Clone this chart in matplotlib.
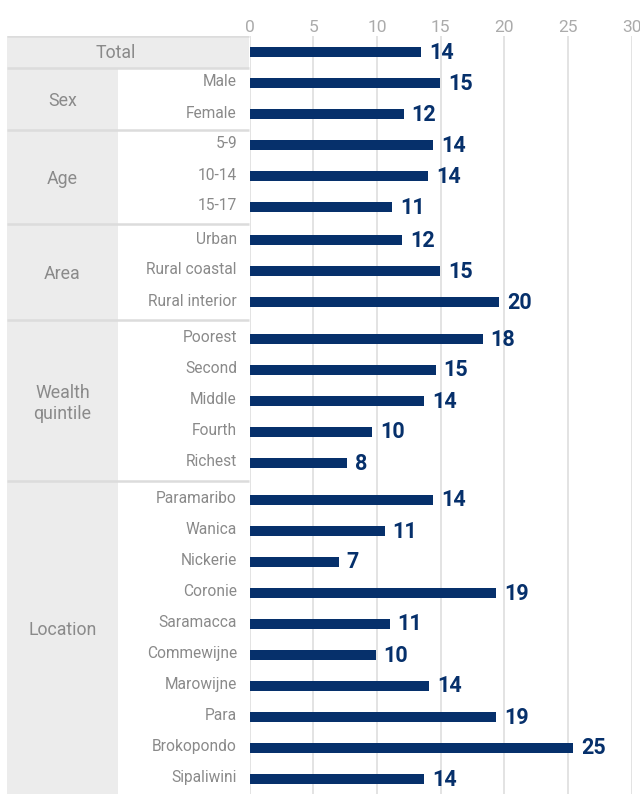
import matplotlib
matplotlib.use("Agg")
import matplotlib.pyplot as plt
from matplotlib.patches import Rectangle

# ---------------- data ----------------
groups = ["Total", "Sex", "Age", "Area", "Wealth\nquintile", "Location"]
total_value = [13.5]
sex_labels = ["Male", "Female"]
sex_values = [14.95, 12.1]
age_labels = ["5-9", "10-14", "15-17"]
age_values = [14.4, 14.0, 11.2]
area_labels = ["Urban", "Rural coastal", "Rural interior"]
area_values = [12.0, 14.95, 19.6]
wealth_labels = ["Poorest", "Second", "Middle", "Fourth", "Richest"]
wealth_values = [18.3, 14.6, 13.7, 9.6, 7.65]
location_labels = ["Paramaribo", "Wanica", "Nickerie", "Coronie", "Saramacca",
                   "Commewijne", "Marowijne", "Para", "Brokopondo", "Sipaliwini"]
location_values = [14.4, 10.6, 7.0, 19.35, 11.0, 9.9, 14.1, 19.35, 25.4, 13.7]
x_ticks = [0, 5, 10, 15, 20, 25, 30]

group_rows = [
    ([""], total_value),
    (sex_labels, sex_values),
    (age_labels, age_values),
    (area_labels, area_values),
    (wealth_labels, wealth_values),
    (location_labels, location_values),
]

# ---------------- layout (pixel units) ----------------
W, H = 640, 794
TOP = 36
ROW = 31
EXTRA_GAP = [0, 0, 0, 2, 5.5, 6]
X0 = 249.5   # x of value 0
X30 = 631.7  # x of value 30
TL = 7       # table left
GC = 118     # group column right edge

NAVY = "#06306b"
GRID = "#e0e0e0"
SEP = "#dcdcdc"
BOX = "#ececec"
TXT = "#8a8a8a"
TICK = "#ababab"

fam = ["Roboto", "DejaVu Sans"]

# compute row centres and group boundaries
centres = []
labels_all = []
values_all = []
bounds = [TOP]
y = TOP + ROW / 2 + 0.5
first = True
for gi, (labs, vals) in enumerate(group_rows):
    if not first:
        y += EXTRA_GAP[gi]
        bounds.append(centres[-1] + ROW / 2 + EXTRA_GAP[gi] / 2)
    first = False
    for lab, v in zip(labs, vals):
        centres.append(y)
        labels_all.append(lab)
        values_all.append(v)
        y += ROW
bounds.append(H)

fig = plt.figure(figsize=(W / 100, H / 100), dpi=100)
fig.patch.set_facecolor("white")

# ---- bar axes ----
ax = fig.add_axes([X0 / W, 0, (X30 - X0) / W, 1 - TOP / H])
ax.set_xlim(0, 30)
ax.set_ylim(H, TOP)
ax.barh(centres, values_all, height=10, color=NAVY, zorder=3)
for yc, v in zip(centres, values_all):
    ax.annotate(f"{round(v)}", xy=(v, yc), xytext=(8, -1), textcoords="offset pixels",
                ha="left", va="center", fontsize=15.5, fontweight="bold",
                color=NAVY, family=fam)
ax.set_xticks(x_ticks)
ax.xaxis.tick_top()
ax.tick_params(axis="x", length=0, pad=1, labelsize=12.5, labelcolor=TICK)
for lab in ax.get_xticklabels():
    lab.set_family(fam)
ax.set_yticks([])
ax.grid(axis="x", color=GRID, linewidth=1.3, zorder=0)
for s in ax.spines.values():
    s.set_visible(False)

# ---- table axes ----
tx = fig.add_axes([0, 0, X0 / W, 1 - TOP / H])
tx.set_xlim(0, X0)
tx.set_ylim(H, TOP)
tx.axis("off")

# Total row full-width box
tx.add_patch(Rectangle((TL, bounds[0]), X0 - TL, bounds[1] - bounds[0],
                       facecolor=BOX, edgecolor="none"))
# group column boxes
tx.add_patch(Rectangle((TL, bounds[1]), GC - TL, H - bounds[1],
                       facecolor=BOX, edgecolor="none"))
# separators
for b in bounds[:-1]:
    tx.plot([TL, X0], [b, b], color=SEP, linewidth=1.8, solid_capstyle="butt")

# group labels
tx.text(116, (bounds[0] + bounds[1]) / 2 + 1.5, groups[0], ha="center", va="center",
        fontsize=12.8, color=TXT, family=fam)
for gi in range(1, len(groups)):
    lo = bounds[gi]
    hi = bounds[gi + 1] if gi < len(groups) - 1 else H - 20
    yc = (lo + hi) / 2 + 2.5
    tx.text((TL + GC) / 2, yc, groups[gi], ha="center", va="center",
            fontsize=12.8, color=TXT, family=fam, linespacing=1.2)

# sub labels
for yc, lab in zip(centres, labels_all):
    if lab:
        tx.text(237, yc - 1, lab, ha="right", va="center",
                fontsize=11.2, color=TXT, family=fam)

fig.savefig("out.png", dpi=100, facecolor="white")
